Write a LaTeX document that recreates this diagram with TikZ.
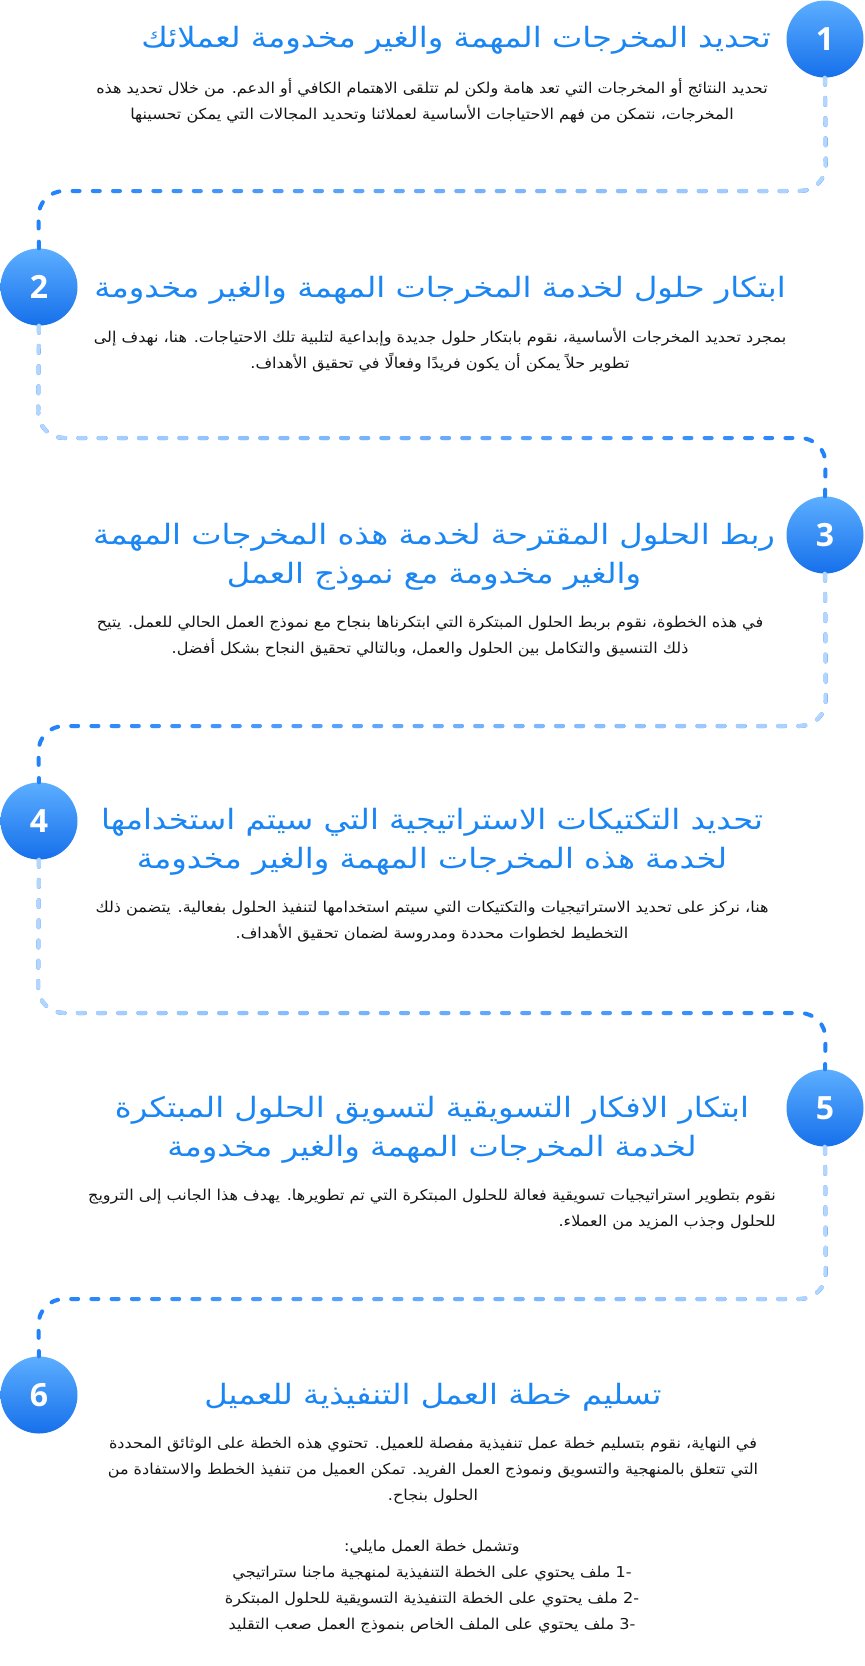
\documentclass[tikz,border=0pt]{standalone}
\usepackage{fontspec}
\TeXXeTstate=1
\newfontfamily\arabicfont[Script=Arabic, FakeStretch=1.15]{DejaVu Sans}
\newfontfamily\arabicbody[Script=Arabic, FakeStretch=1.07]{DejaVu Sans}
\newfontfamily\numfont{Open Sans}
\usetikzlibrary{fadings}
\definecolor{titleblue}{HTML}{1A86F4}
\definecolor{bodyblack}{HTML}{161616}
\definecolor{darkdash}{HTML}{2182FA}
\definecolor{lightdash}{HTML}{B5D7FF}
\definecolor{circtop}{HTML}{5CAEFF}
\definecolor{circbot}{HTML}{1670EB}
\tikzfading[name=opaqueright, left color=transparent!100, right color=transparent!0]
\tikzfading[name=opaqueleft, left color=transparent!0, right color=transparent!100]
\tikzset{
  stepcircle/.style={circle, minimum size=77pt, inner sep=0pt, top color=circtop, bottom color=circbot, draw=none, text=white, font=\numfont\bfseries\fontsize{32}{32}\selectfont},
  titletext/.style={text=titleblue, align=center, inner sep=0pt, font=\arabicfont\fontsize{28}{39}\selectfont},
  bodytext/.style={text=bodyblack, align=center, inner sep=0pt, font=\arabicbody\fontsize{15}{26}\selectfont},
  dashline/.style={line width=4pt, line cap=round, dash pattern=on 7pt off 13.2pt, rounded corners=26pt},
}
\begin{document}
\begin{tikzpicture}[x=1pt,y=-1pt]
\useasboundingbox (0,0) rectangle (865,1666);
\fill[white] (0,0) rectangle (865,1666);
% circles
\node[stepcircle] (c1) at (825,39) {1};
\node[stepcircle] (c2) at (39,287) {2};
\node[stepcircle] (c3) at (825,535) {3};
\node[stepcircle] (c4) at (39,821) {4};
\node[stepcircle] (c5) at (825,1108) {5};
\node[stepcircle] (c6) at (39,1395) {6};
% connector corners
\coordinate (h1r) at (826,191);  \coordinate (h1l) at (38,191);
\coordinate (h2l) at (38,438);   \coordinate (h2r) at (826,438);
\coordinate (h3r) at (826,726);  \coordinate (h3l) at (38,726);
\coordinate (h4l) at (38,1013);  \coordinate (h4r) at (826,1013);
\coordinate (h5r) at (826,1299); \coordinate (h5l) at (38,1299);
% connectors: dark layer, then light layer faded toward the lower circle
\draw[dashline, darkdash] (c1.south) -- (h1r) -- (h1l) -- (c2.north);
\draw[dashline, lightdash, path fading=opaqueright, fit fading=true] (c1.south) -- (h1r) -- (h1l) -- (c2.north);
\draw[dashline, darkdash] (c2.south) -- (h2l) -- (h2r) -- (c3.north);
\draw[dashline, lightdash, path fading=opaqueleft, fit fading=true] (c2.south) -- (h2l) -- (h2r) -- (c3.north);
\draw[dashline, darkdash] (c3.south) -- (h3r) -- (h3l) -- (c4.north);
\draw[dashline, lightdash, path fading=opaqueright, fit fading=true] (c3.south) -- (h3r) -- (h3l) -- (c4.north);
\draw[dashline, darkdash] (c4.south) -- (h4l) -- (h4r) -- (c5.north);
\draw[dashline, lightdash, path fading=opaqueleft, fit fading=true] (c4.south) -- (h4l) -- (h4r) -- (c5.north);
\draw[dashline, darkdash] (c5.south) -- (h5r) -- (h5l) -- (c6.north);
\draw[dashline, lightdash, path fading=opaqueright, fit fading=true] (c5.south) -- (h5r) -- (h5l) -- (c6.north);
% step 1
\node[titletext] (t1) at (456,40) {\beginR تحديد المخرجات المهمة والغير مخدومة لعملائك\endR};
\node[bodytext] (b1) at (432,101) {\beginR تحديد النتائج أو المخرجات التي تعد هامة ولكن لم تتلقى الاهتمام الكافي أو الدعم. من خلال تحديد هذه\endR\\\beginR المخرجات، نتمكن من فهم الاحتياجات الأساسية لعملائنا وتحديد المجالات التي يمكن تحسينها\endR};
% step 2
\node[titletext] (t2) at (440,290) {\beginR ابتكار حلول لخدمة المخرجات المهمة والغير مخدومة\endR};
\node[bodytext] (b2) at (440,350) {\beginR بمجرد تحديد المخرجات الأساسية، نقوم بابتكار حلول جديدة وإبداعية لتلبية تلك الاحتياجات. هنا، نهدف إلى\endR\\\beginR تطوير حلاً يمكن أن يكون فريدًا وفعالًا في تحقيق الأهداف.\endR};
% step 3
\node[titletext] (t3) at (434,557) {\beginR ربط الحلول المقترحة لخدمة هذه المخرجات المهمة\endR\\\beginR والغير مخدومة مع نموذج العمل\endR};
\node[bodytext] (b3) at (430,637) {\beginR في هذه الخطوة، نقوم بربط الحلول المبتكرة التي ابتكرناها بنجاح مع نموذج العمل الحالي للعمل. يتيح\endR\\\beginR ذلك التنسيق والتكامل بين الحلول والعمل، وبالتالي تحقيق النجاح بشكل أفضل.\endR};
% step 4
\node[titletext] (t4) at (432,842) {\beginR تحديد التكتيكات الاستراتيجية التي سيتم استخدامها\endR\\\beginR لخدمة هذه المخرجات المهمة والغير مخدومة\endR};
\node[bodytext] (b4) at (432,922) {\beginR هنا، نركز على تحديد الاستراتيجيات والتكتيكات التي سيتم استخدامها لتنفيذ الحلول بفعالية. يتضمن ذلك\endR\\\beginR التخطيط لخطوات محددة ومدروسة لضمان تحقيق الأهداف.\endR};
% step 5
\node[titletext] (t5) at (432,1130) {\beginR ابتكار الافكار التسويقية لتسويق الحلول المبتكرة\endR\\\beginR لخدمة المخرجات المهمة والغير مخدومة\endR};
\node[bodytext, align=right] (b5) at (432,1210) {\beginR نقوم بتطوير استراتيجيات تسويقية فعالة للحلول المبتكرة التي تم تطويرها. يهدف هذا الجانب إلى الترويج\endR\\\beginR للحلول وجذب المزيد من العملاء.\endR};
% step 6
\node[titletext] (t6) at (433,1397) {\beginR تسليم خطة العمل التنفيذية للعميل\endR};
\node[bodytext] (b6) at (433,1471) {\beginR في النهاية، نقوم بتسليم خطة عمل تنفيذية مفصلة للعميل. تحتوي هذه الخطة على الوثائق المحددة\endR\\\beginR التي تتعلق بالمنهجية والتسويق ونموذج العمل الفريد. تمكن العميل من تنفيذ الخطط والاستفادة من\endR\\\beginR الحلول بنجاح.\endR};
\node[bodytext] (b6list) at (432,1587) {\beginR وتشمل خطة العمل مايلي:\endR\\\beginR\beginL -1\endL{} ملف يحتوي على الخطة التنفيذية لمنهجية ماجنا ستراتيجي\endR\\\beginR\beginL -2\endL{} ملف يحتوي على الخطة التنفيذية التسويقية للحلول المبتكرة\endR\\\beginR\beginL -3\endL{} ملف يحتوي على الملف الخاص بنموذج العمل صعب التقليد\endR};
\end{tikzpicture}
\end{document}
